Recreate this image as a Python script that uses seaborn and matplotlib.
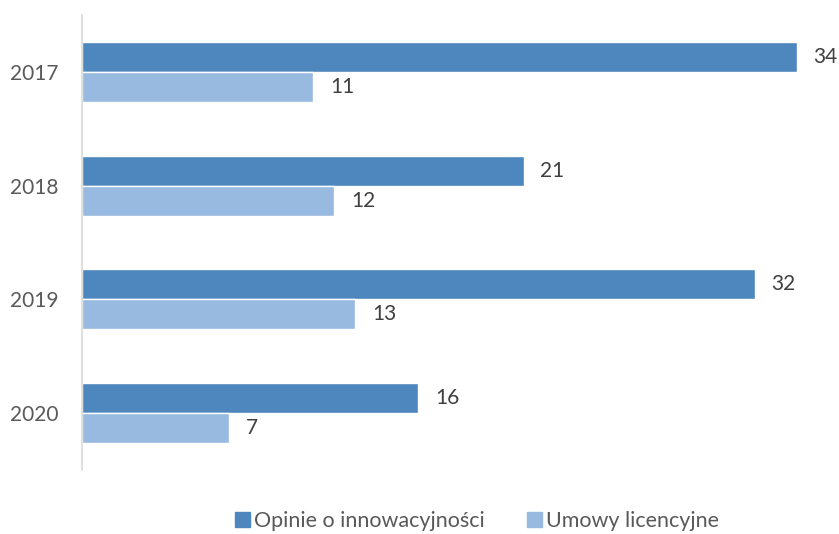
import numpy as np
import pandas as pd
import matplotlib.pyplot as plt
import seaborn as sns
from matplotlib.patches import Patch

# dane
lata = ['2017', '2018', '2019', '2020']
opinie = [34, 21, 32, 16]
umowy = [11, 12, 13, 7]
serie = ['Opinie o innowacyjności', 'Umowy licencyjne']

df = pd.DataFrame({
    'rok': lata * 2,
    'liczba': opinie + umowy,
    'rodzaj': [serie[0]] * len(lata) + [serie[1]] * len(lata),
})

sns.set_style('white')
plt.rcParams['font.family'] = ['Lato', 'DejaVu Sans']

fig = plt.figure(figsize=(8.39, 5.34), dpi=100)
ax = fig.add_axes([82 / 839, 64 / 534, 1 - 82 / 839, 455 / 534])

sns.barplot(data=df, y='rok', x='liczba', hue='rodzaj', orient='h',
            palette=['#4E87BD', '#98B9E0'], width=0.526, ax=ax,
            legend=False, saturation=1)

for cont in ax.containers:
    ax.bar_label(cont, padding=12, fontsize=15, color='#404040')

ax.set_xlim(0, 36)
ax.set_ylim(3.5, -0.5)
ax.set_xlabel('')
ax.set_ylabel('')
ax.set_xticks([])
ax.tick_params(axis='y', length=0, labelsize=15, labelcolor='#595959', pad=17)

for s in ['top', 'right', 'bottom']:
    ax.spines[s].set_visible(False)
ax.spines['left'].set_color('#D9D9D9')
ax.spines['left'].set_linewidth(1.2)

# legenda
handles = [Patch(color='#4E87BD'), Patch(color='#98B9E0')]
fig.legend(handles, serie, loc='center', bbox_to_anchor=(477 / 839, 13 / 534),
           ncol=2, frameon=False, fontsize=15.5, handlelength=0.7,
           handleheight=0.7, handletextpad=0.15, columnspacing=2.0,
           labelcolor='#595959')

fig.savefig('out.png', dpi=100)
